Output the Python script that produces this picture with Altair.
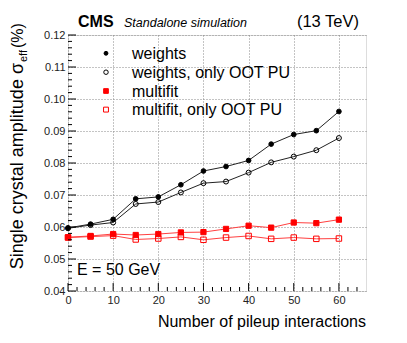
import altair as alt
import pandas as pd

pileup = [0, 5, 10, 15, 20, 25, 30, 35, 40, 45, 50, 55, 60]
weights = [0.0597, 0.0609, 0.0624, 0.0688, 0.0694, 0.0732, 0.0775, 0.0789, 0.0808, 0.0859, 0.0889, 0.0901, 0.0961]
weights_oot = [0.0596, 0.0606, 0.0614, 0.0672, 0.0678, 0.0708, 0.0737, 0.0742, 0.0770, 0.0802, 0.0820, 0.0840, 0.0878]
multifit = [0.0568, 0.0572, 0.0578, 0.0575, 0.0578, 0.0583, 0.0584, 0.0594, 0.0604, 0.0598, 0.0614, 0.0612, 0.0623]
multifit_oot = [0.0567, 0.0570, 0.0573, 0.0561, 0.0564, 0.0569, 0.0560, 0.0567, 0.0572, 0.0563, 0.0567, 0.0563, 0.0564]

series_names = ["weights", "weights, only OOT PU", "multifit", "multifit, only OOT PU"]
series_values = [weights, weights_oot, multifit, multifit_oot]
series_shapes = ["circle", "circle", "square", "square"]
series_fills = ["black", "transparent", "red", "transparent"]
series_strokes = ["black", "black", "red", "red"]
series_sizes = [22, 30, 30, 32]
legend_sizes = [15, 20, 22, 24]
line_colors = ["#222222", "#222222", "#ff4040", "#ff4040"]

x_major = [0, 10, 20, 30, 40, 50, 60]
x_minor = [v for v in range(0, 66, 2) if v % 10 != 0]
y_major = [0.04, 0.05, 0.06, 0.07, 0.08, 0.09, 0.10, 0.11, 0.12]
y_minor = [round(0.04 + 0.002 * i, 3) for i in range(41) if i % 5 != 0]

rows = []
for name, vals in zip(series_names, series_values):
    for x, v in zip(pileup, vals):
        rows.append({"pu": x, "sigma": v, "series": name})
df = pd.DataFrame(rows)

W, H = 298, 256
FONT = "Liberation Sans"

xscale = alt.Scale(domain=[0, 66], nice=False, zero=False)
yscale = alt.Scale(domain=[0.04, 0.12], nice=False, zero=False)

xaxis = alt.Axis(values=x_major, format="d", title=None, domain=False, ticks=False,
                 labelFont=FONT, labelFontSize=11, labelColor="#222", labelPadding=3,
                 labelOverlap=False, labelFlush=False,
                 grid=True, gridDash=[1, 2], gridColor="#888", gridWidth=1, gridOpacity=1)
yaxis = alt.Axis(values=y_major, format=".2f", title=None, domain=False, ticks=False,
                 labelFont=FONT, labelFontSize=11, labelColor="#222", labelPadding=3,
                 labelOverlap=False, labelFlush=False,
                 grid=True, gridDash=[1, 2], gridColor="#888", gridWidth=1, gridOpacity=1)

base = alt.Chart(df)

lines = base.mark_line(strokeWidth=1).encode(
    x=alt.X("pu:Q", scale=xscale, axis=xaxis),
    y=alt.Y("sigma:Q", scale=yscale, axis=yaxis),
    color=alt.Color("series:N", scale=alt.Scale(domain=series_names, range=line_colors), legend=None),
    detail="series:N",
)

points = base.mark_point(strokeWidth=1, opacity=1).encode(
    x=alt.X("pu:Q", scale=xscale, axis=xaxis),
    y=alt.Y("sigma:Q", scale=yscale, axis=yaxis),
    shape=alt.Shape("series:N", scale=alt.Scale(domain=series_names, range=series_shapes), legend=None),
    fill=alt.Fill("series:N", scale=alt.Scale(domain=series_names, range=series_fills), legend=None),
    stroke=alt.Stroke("series:N", scale=alt.Scale(domain=series_names, range=series_strokes), legend=None),
    size=alt.Size("series:N", scale=alt.Scale(domain=series_names, range=series_sizes), legend=None),
)

xmaj = alt.Chart(pd.DataFrame({"v": x_major})).mark_rule(color="black", strokeWidth=1).encode(
    x=alt.X("v:Q", scale=xscale, axis=xaxis), y=alt.value(H), y2=alt.value(H - 8))
xmin = alt.Chart(pd.DataFrame({"v": x_minor})).mark_rule(color="black", strokeWidth=1).encode(
    x=alt.X("v:Q", scale=xscale, axis=xaxis), y=alt.value(H), y2=alt.value(H - 4))
ymaj = alt.Chart(pd.DataFrame({"v": y_major})).mark_rule(color="black", strokeWidth=1).encode(
    y=alt.Y("v:Q", scale=yscale, axis=yaxis), x=alt.value(0), x2=alt.value(8))
ymin = alt.Chart(pd.DataFrame({"v": y_minor})).mark_rule(color="black", strokeWidth=1).encode(
    y=alt.Y("v:Q", scale=yscale, axis=yaxis), x=alt.value(0), x2=alt.value(4))

one = pd.DataFrame({"a": [0]})

def label(text, x, y, size, align="left", weight="normal", style="normal", angle=0, baseline="alphabetic"):
    return alt.Chart(one).mark_text(text=text, font=FONT, fontSize=size, align=align,
                                    baseline=baseline, fontWeight=weight,
                                    fontStyle=style, angle=angle, color="black").encode(
        x=alt.value(x), y=alt.value(y))

# legend (manual, upper left inside plot)
leg_rows = [18.3, 37.2, 56.0, 74.6]
legend_layers = []
for i, name in enumerate(series_names):
    legend_layers.append(
        alt.Chart(one).mark_point(shape=series_shapes[i], fill=series_fills[i],
                                  stroke=series_strokes[i], size=legend_sizes[i],
                                  strokeWidth=1, opacity=1, filled=False).encode(
            x=alt.value(38), y=alt.value(leg_rows[i])))
    legend_layers.append(label(name, 64, leg_rows[i] + 5.5, 16))

texts = [
    label("CMS", 10, -8.5, 16, weight="bold"),
    label("Standalone simulation", 56, -8.5, 12.5, style="italic"),
    label("(13 TeV)", 291, -8.5, 16.5, align="right"),
    label("E = 50 GeV", 9, 240, 16),
    label("Number of pileup interactions", W, 291.5, 16, align="right"),
    label("Single crystal amplitude σ", -45, 28, 18, align="right", angle=270),
    label("eff", -41, 27, 11, align="left", angle=270),
    label("(%)", -45, 13, 16, align="left", angle=270),
]

chart = alt.layer(lines, points, xmaj, xmin, ymaj, ymin, *legend_layers, *texts).properties(
    width=W, height=H,
    autosize=alt.AutoSizeParams(type="none"),
    padding={"left": 60, "top": 27, "right": 33, "bottom": 44},
).configure_view(stroke="black", strokeWidth=1).configure(background="white")

chart.save("out.html", embed_options={"renderer": "svg", "actions": False})
